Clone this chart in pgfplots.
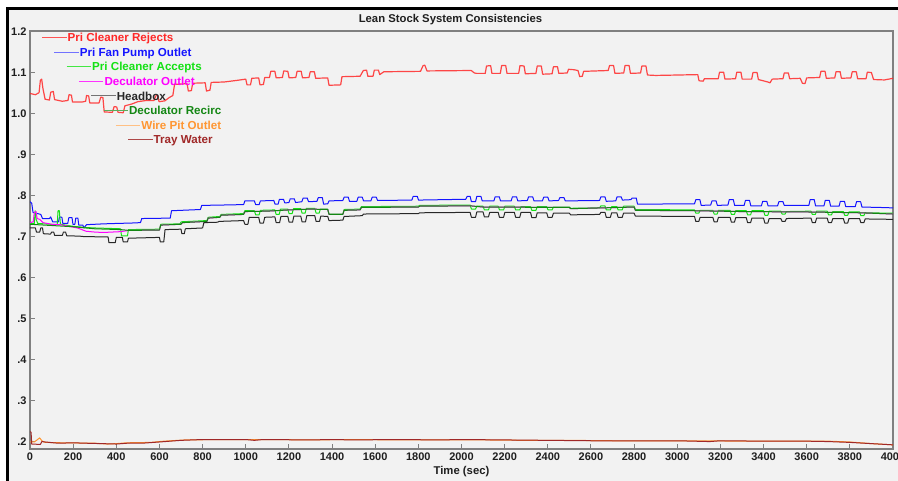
\documentclass[border=0pt]{standalone}
\usepackage{pgfplots}
\pgfplotsset{compat=1.18}
\usepackage{fontspec}
\setmainfont{Liberation Sans}
\definecolor{panel}{RGB}{242,242,242}
\definecolor{axisgray}{RGB}{128,128,128}
\definecolor{cRed}{RGB}{255,40,40}
\definecolor{cBlue}{RGB}{20,20,255}
\definecolor{cGreen}{RGB}{20,225,20}
\definecolor{cMag}{RGB}{255,0,255}
\definecolor{cBlack}{RGB}{40,40,40}
\definecolor{cDkGreen}{RGB}{20,135,20}
\definecolor{cOrange}{RGB}{255,150,50}
\definecolor{cBrown}{RGB}{160,40,40}
\begin{document}
\begin{tikzpicture}[x=1pt,y=1pt]
\path[use as bounding box] (0,0) rectangle (898,481);
\fill[white] (0,0) rectangle (898,481);
\fill[panel] (7.5,0) rectangle (898,472.5);
\draw[black, line width=3pt] (7.5,-2) -- (7.5,472.5) -- (900,472.5);
\begin{axis}[
  at={(30pt,32pt)}, anchor=south west, scale only axis,
  width=863pt, height=418pt,
  xmin=0, xmax=4000, ymin=0.1829, ymax=1.2024,
  axis line style={draw=axisgray, line width=1.3pt},
  tick style={draw=axisgray, line width=1pt},
  major tick length=5pt, tick align=inside,
  xtick pos=bottom, ytick pos=left,
  xtick={0,200,400,600,800,1000,1200,1400,1600,1800,2000,2200,2400,2600,2800,3000,3200,3400,3600,3800,4000},
  xticklabels={0,200,400,600,800,1000,1200,1400,1600,1800,2000,2200,2400,2600,2800,3000,3200,3400,3600,3800,4000},
  ytick={0.2,0.3,0.4,0.5,0.6,0.7,0.8,0.9,1.0,1.1,1.2},
  yticklabels={.2,.3,.4,.5,.6,.7,.8,.9,1.0,1.1,1.2},
  ticklabel style={font=\bfseries\fontsize{11}{11}\selectfont, text=black!88},
  every axis title shift=0pt,
  title={Lean Stock System Consistencies},
  title style={at={(rel axis cs:0.5,1)}, anchor=center, yshift=11pt, xshift=-11pt, font=\bfseries\fontsize{11.3}{12}\selectfont, text=black!88},
  xlabel={Time (sec)},
  xlabel style={at={(rel axis cs:0.5,0)}, anchor=center, yshift=-23pt, font=\bfseries\fontsize{11.3}{12}\selectfont, text=black!88},
  axis background/.style={fill=panel},
  every axis plot/.append style={line width=1pt, line join=round},
]
% Pri Cleaner Rejects
\addplot[cRed, line width=1.2pt, opacity=0.85] coordinates {
(0,1.050) (25,1.047) (42,1.052) (48,1.082) (54,1.085) (60,1.062) (70,1.036) (90,1.034) (96,1.053) (108,1.055) (114,1.035)
(150,1.031) (176,1.033) (181,1.047) (192,1.046) (197,1.029) (240,1.029) (258,1.031) (262,1.045) (272,1.044) (277,1.027)
(320,1.027) (328,1.041) (338,1.040) (344,1.005) (382,1.004) (390,1.018) (402,1.017) (408,1.004) (432,1.003) (440,1.020)
(470,1.024) (500,1.030) (540,1.033) (575,1.033) (585,1.046) (592,1.045) (598,1.030) (625,1.032) (645,1.040) (662,1.045)
(670,1.072) (728,1.074) (734,1.056) (748,1.057) (754,1.075) (812,1.076) (818,1.056) (834,1.058) (840,1.077) (900,1.078)
(960,1.082) (1000,1.085) (1006,1.071) (1022,1.071) (1028,1.087) (1060,1.088) (1066,1.071) (1082,1.072) (1088,1.089)
(1110,1.089) (1116,1.104) (1135,1.104) (1141,1.088) (1170,1.089) (1176,1.105) (1195,1.104) (1201,1.088) (1232,1.089)
(1238,1.104) (1257,1.104) (1263,1.088) (1293,1.089) (1299,1.103) (1318,1.103) (1324,1.087) (1380,1.088) (1386,1.070)
(1440,1.071) (1446,1.091) (1530,1.092) (1545,1.106) (1560,1.107) (1566,1.092) (1590,1.092) (1596,1.107) (1615,1.107)
(1621,1.096) (1640,1.103) (1810,1.104) (1822,1.118) (1830,1.119) (1840,1.105) (2045,1.106) (2060,1.100) (2070,1.099)
(2110,1.099) (2116,1.117) (2135,1.118) (2141,1.099) (2180,1.099) (2186,1.118) (2205,1.118) (2211,1.099) (2265,1.099)
(2271,1.118) (2290,1.117) (2296,1.098) (2345,1.099) (2351,1.117) (2370,1.117) (2376,1.097) (2420,1.098) (2426,1.115)
(2445,1.115) (2451,1.099) (2490,1.100) (2496,1.109) (2520,1.108) (2540,1.106) (2548,1.091) (2560,1.092) (2566,1.104)
(2680,1.106) (2686,1.118) (2705,1.118) (2711,1.099) (2752,1.100) (2758,1.118) (2777,1.118) (2783,1.099) (2830,1.100)
(2836,1.117) (2855,1.117) (2862,1.095) (2900,1.094) (3000,1.095) (3095,1.096) (3101,1.081) (3120,1.080) (3126,1.086)
(3190,1.086) (3196,1.102) (3215,1.102) (3221,1.085) (3270,1.086) (3276,1.102) (3295,1.102) (3301,1.085) (3345,1.085)
(3351,1.101) (3370,1.101) (3376,1.084) (3420,1.078) (3430,1.076) (3440,1.085) (3490,1.086) (3496,1.100) (3515,1.100)
(3521,1.086) (3570,1.087) (3580,1.075) (3592,1.074) (3600,1.088) (3660,1.089) (3666,1.104) (3685,1.104) (3691,1.087)
(3730,1.088) (3736,1.103) (3755,1.103) (3761,1.087) (3805,1.088) (3811,1.103) (3830,1.103) (3836,1.086) (3875,1.086)
(3881,1.102) (3900,1.101) (3910,1.084) (3960,1.083) (4000,1.087)
};
% Pri Fan Pump Outlet
\addplot[cBlue] coordinates {
(0,0.786) (8,0.782) (14,0.760) (50,0.755) (58,0.745) (90,0.745) (96,0.749) (105,0.737) (132,0.737) (137,0.749) (148,0.748)
(152,0.733) (175,0.733) (180,0.747) (195,0.747) (199,0.731) (208,0.731) (212,0.746) (222,0.746) (226,0.729) (245,0.729)
(250,0.722) (262,0.730) (340,0.732) (400,0.733) (470,0.734) (512,0.735) (518,0.745) (650,0.746) (656,0.764) (790,0.767)
(796,0.777) (900,0.778) (990,0.779) (996,0.788) (1040,0.788) (1046,0.779) (1062,0.779) (1068,0.788) (1130,0.789) (1136,0.780)
(1150,0.780) (1156,0.792) (1175,0.792) (1181,0.783) (1200,0.784) (1206,0.793) (1225,0.793) (1231,0.784) (1260,0.786)
(1266,0.795) (1285,0.795) (1291,0.786) (1330,0.787) (1336,0.796) (1355,0.796) (1361,0.780) (1380,0.781) (1386,0.788)
(1450,0.789) (1456,0.797) (1475,0.797) (1481,0.787) (1515,0.787) (1521,0.797) (1540,0.797) (1546,0.788) (1580,0.788)
(1586,0.797) (1605,0.797) (1611,0.789) (1770,0.790) (1776,0.799) (1795,0.799) (1801,0.790) (2020,0.792) (2026,0.799)
(2040,0.799) (2046,0.786) (2065,0.786) (2071,0.799) (2090,0.799) (2096,0.788) (2150,0.788) (2156,0.798) (2175,0.798)
(2181,0.788) (2230,0.788) (2236,0.798) (2255,0.798) (2261,0.788) (2305,0.789) (2311,0.798) (2330,0.798) (2336,0.788)
(2375,0.788) (2381,0.797) (2400,0.797) (2406,0.788) (2450,0.789) (2456,0.796) (2475,0.796) (2481,0.788) (2640,0.789)
(2646,0.798) (2665,0.798) (2671,0.787) (2715,0.788) (2721,0.798) (2740,0.798) (2746,0.790) (2785,0.791) (2791,0.795)
(2810,0.795) (2816,0.780) (3080,0.781) (3086,0.791) (3105,0.791) (3111,0.777) (3155,0.778) (3161,0.788) (3180,0.788)
(3186,0.777) (3235,0.778) (3241,0.791) (3260,0.791) (3266,0.777) (3310,0.777) (3316,0.789) (3335,0.789) (3341,0.776)
(3390,0.776) (3396,0.787) (3415,0.787) (3421,0.776) (3465,0.776) (3471,0.786) (3490,0.786) (3496,0.777) (3610,0.777)
(3616,0.791) (3635,0.791) (3641,0.776) (3680,0.776) (3686,0.789) (3705,0.789) (3711,0.775) (3750,0.775) (3756,0.787)
(3775,0.787) (3781,0.774) (3825,0.774) (3831,0.786) (3850,0.786) (3856,0.773) (3940,0.772) (4000,0.771)
};
% Pri Cleaner Accepts
\addplot[cGreen] coordinates {
(0,0.733) (20,0.733) (24,0.764) (29,0.742) (36,0.733) (126,0.730) (130,0.764) (136,0.764) (141,0.731) (200,0.726)
(260,0.723) (300,0.722) (420,0.720) (424,0.703) (452,0.703) (456,0.718) (600,0.719) (606,0.731) (695,0.732) (701,0.737)
(820,0.740) (826,0.748) (880,0.750) (886,0.755) (990,0.757) (996,0.764) (1040,0.764) (1046,0.754) (1062,0.754) (1068,0.765)
(1135,0.766) (1141,0.755) (1155,0.755) (1161,0.768) (1195,0.768) (1201,0.757) (1215,0.757) (1221,0.769) (1255,0.769)
(1261,0.758) (1275,0.758) (1281,0.770) (1320,0.770) (1326,0.758) (1340,0.758) (1346,0.768) (1380,0.768) (1386,0.756)
(1450,0.756) (1456,0.767) (1530,0.768) (1536,0.774) (1800,0.775) (1806,0.777) (2040,0.778) (2046,0.768) (2065,0.768)
(2071,0.775) (2100,0.775) (2106,0.766) (2125,0.766) (2131,0.775) (2170,0.775) (2176,0.766) (2195,0.766) (2201,0.775)
(2245,0.775) (2251,0.766) (2270,0.766) (2276,0.774) (2320,0.774) (2326,0.765) (2345,0.765) (2351,0.774) (2395,0.774)
(2401,0.766) (2420,0.766) (2426,0.773) (2500,0.773) (2506,0.770) (2640,0.771) (2646,0.776) (2665,0.776) (2671,0.766)
(2690,0.766) (2696,0.774) (2720,0.774) (2726,0.766) (2745,0.766) (2751,0.775) (2800,0.775) (2806,0.767) (3080,0.766)
(3086,0.758) (3100,0.758) (3106,0.765) (3165,0.765) (3171,0.756) (3185,0.756) (3191,0.765) (3245,0.765) (3251,0.755)
(3265,0.755) (3271,0.764) (3320,0.764) (3326,0.754) (3340,0.754) (3346,0.764) (3400,0.764) (3406,0.753) (3420,0.753)
(3426,0.763) (3480,0.763) (3486,0.756) (3500,0.756) (3506,0.762) (3620,0.763) (3626,0.755) (3640,0.755) (3646,0.763)
(3695,0.763) (3701,0.754) (3715,0.754) (3721,0.762) (3770,0.762) (3776,0.753) (3790,0.753) (3796,0.761) (3845,0.761)
(3851,0.752) (3865,0.752) (3871,0.759) (4000,0.758)
};
% Deculator Outlet
\addplot[cMag] coordinates {
(0,0.735) (15,0.737) (20,0.760) (28,0.762) (33,0.745) (45,0.743) (60,0.735) (100,0.731) (140,0.730) (180,0.726)
(220,0.722) (260,0.714) (300,0.712) (340,0.711) (380,0.712) (420,0.713) (460,0.716) (600,0.717) (606,0.729) (700,0.731)
(706,0.735) (820,0.738) (826,0.746) (880,0.748) (886,0.753) (990,0.755) (996,0.762) (1100,0.763) (1200,0.766) (1300,0.768)
(1380,0.767) (1386,0.755) (1450,0.755) (1456,0.765) (1530,0.766) (1536,0.772) (1800,0.773) (1806,0.775) (2040,0.776)
(2100,0.773) (2500,0.772) (2506,0.769) (2800,0.773) (2806,0.765) (3080,0.764) (3300,0.762) (3600,0.761) (3850,0.759) (4000,0.756)
};
% Headbox
\addplot[cBlack] coordinates {
(0,0.722) (25,0.722) (30,0.712) (45,0.712) (50,0.722) (58,0.722) (62,0.708) (95,0.707) (100,0.712) (110,0.712) (114,0.704)
(150,0.704) (155,0.712) (165,0.712) (170,0.703) (230,0.702) (250,0.701) (362,0.700) (366,0.686) (395,0.686) (400,0.699)
(428,0.699) (432,0.688) (452,0.688) (456,0.697) (600,0.699) (604,0.688) (620,0.688) (626,0.718) (700,0.719) (704,0.708)
(715,0.708) (720,0.720) (800,0.722) (806,0.735) (870,0.736) (876,0.738) (990,0.740) (996,0.731) (1010,0.731) (1016,0.748)
(1060,0.748) (1066,0.734) (1082,0.734) (1088,0.748) (1135,0.749) (1141,0.735) (1157,0.735) (1163,0.750) (1195,0.750)
(1201,0.736) (1217,0.736) (1223,0.751) (1255,0.751) (1261,0.737) (1277,0.737) (1283,0.752) (1320,0.752) (1326,0.738)
(1342,0.738) (1348,0.751) (1380,0.750) (1386,0.740) (1450,0.741) (1456,0.750) (1540,0.752) (1546,0.756) (1800,0.757)
(1806,0.759) (2040,0.760) (2046,0.748) (2065,0.748) (2071,0.761) (2100,0.761) (2106,0.749) (2125,0.749) (2131,0.760)
(2170,0.760) (2176,0.748) (2195,0.748) (2201,0.760) (2245,0.760) (2251,0.748) (2270,0.748) (2276,0.760) (2320,0.760)
(2326,0.747) (2345,0.747) (2351,0.759) (2395,0.759) (2401,0.748) (2420,0.748) (2426,0.758) (2500,0.758) (2506,0.754)
(2640,0.755) (2646,0.760) (2665,0.760) (2671,0.748) (2690,0.748) (2696,0.759) (2720,0.759) (2726,0.748) (2745,0.748)
(2751,0.758) (2800,0.758) (2806,0.751) (3080,0.750) (3086,0.738) (3100,0.738) (3106,0.748) (3165,0.748) (3171,0.737)
(3185,0.737) (3191,0.748) (3245,0.748) (3251,0.736) (3265,0.736) (3271,0.747) (3320,0.747) (3326,0.735) (3340,0.735)
(3346,0.746) (3400,0.746) (3406,0.734) (3420,0.734) (3426,0.745) (3480,0.745) (3486,0.738) (3500,0.738) (3506,0.745)
(3620,0.746) (3626,0.735) (3640,0.735) (3646,0.746) (3695,0.746) (3701,0.735) (3715,0.735) (3721,0.745) (3770,0.745)
(3776,0.734) (3790,0.734) (3796,0.745) (3845,0.745) (3851,0.735) (3865,0.735) (3871,0.744) (4000,0.743)
};
% Deculator Recirc
\addplot[cDkGreen] coordinates {
(0,0.731) (100,0.728) (200,0.725) (300,0.720) (420,0.718) (460,0.716) (600,0.717) (606,0.729) (700,0.731) (706,0.735)
(820,0.738) (826,0.746) (880,0.748) (886,0.753) (990,0.755) (996,0.762) (1100,0.763) (1200,0.766) (1300,0.768) (1380,0.767)
(1386,0.755) (1450,0.755) (1456,0.765) (1530,0.766) (1536,0.772) (1800,0.773) (1806,0.775) (2040,0.776) (2100,0.773)
(2500,0.772) (2506,0.769) (2800,0.773) (2806,0.765) (3080,0.764) (3300,0.762) (3600,0.761) (3850,0.759) (4000,0.756)
};
% Wire Pit Outlet
\addplot[cOrange] coordinates {
(0,0.200) (20,0.200) (35,0.206) (45,0.210) (55,0.203) (70,0.199) (150,0.198) (300,0.197) (360,0.195) (400,0.196) (450,0.198)
(560,0.199) (620,0.202) (720,0.205) (900,0.206) (1100,0.206) (1300,0.205) (1500,0.206) (1700,0.205) (1900,0.205)
(2100,0.205) (2300,0.204) (2500,0.204) (2700,0.203) (2900,0.203) (3100,0.203) (3300,0.202) (3500,0.202) (3700,0.202)
(3800,0.200) (3900,0.196) (4000,0.193)
};
% Tray Water
\addplot[cBrown] coordinates {
(0,0.225) (5,0.224) (8,0.195) (48,0.194) (55,0.201) (70,0.200) (130,0.197) (200,0.198) (260,0.197) (330,0.196) (400,0.195)
(450,0.197) (520,0.197) (600,0.200) (700,0.204) (800,0.206) (1000,0.206) (1040,0.204) (1080,0.206) (1300,0.205)
(1400,0.206) (1500,0.205) (1700,0.206) (1900,0.205) (2000,0.206) (2200,0.205) (2400,0.204) (2600,0.203) (2800,0.203)
(3000,0.203) (3150,0.201) (3200,0.203) (3400,0.202) (3600,0.202) (3700,0.201) (3800,0.199) (3900,0.196) (4000,0.193)
};
\end{axis}
% legend (stair-stepped, as in the reference)
\begin{scope}[font=\bfseries\fontsize{11.6}{12}\selectfont, every path/.append style={line width=1.2pt}]
\draw[cRed!80] (42,443.5) -- (66.5,443.5);
\node[anchor=base west, inner sep=0.5pt, text=cRed] at (66.5,439.3) {Pri Cleaner Rejects};
\draw[cBlue!60] (54.3,428.5) -- (78.8,428.5);
\node[anchor=base west, inner sep=0.5pt, text=cBlue] at (78.8,424.7) {Pri Fan Pump Outlet};
\draw[cGreen!80] (66.6,414.5) -- (91.1,414.5);
\node[anchor=base west, inner sep=0.5pt, text=cGreen] at (91.1,410.1) {Pri Cleaner Accepts};
\draw[cMag!80] (78.9,399.5) -- (103.4,399.5);
\node[anchor=base west, inner sep=0.5pt, text=cMag] at (103.4,395.5) {Deculator Outlet};
\draw[black!55] (91.2,385.5) -- (115.7,385.5);
\node[anchor=base west, inner sep=0.5pt, text=cBlack] at (115.7,380.9) {Headbox};
\draw[cDkGreen!70] (103.5,370.5) -- (128,370.5);
\node[anchor=base west, inner sep=0.5pt, text=cDkGreen] at (128,366.3) {Deculator Recirc};
\draw[cOrange!60] (115.8,355.5) -- (140.3,355.5);
\node[anchor=base west, inner sep=0.5pt, text=cOrange] at (140.3,351.7) {Wire Pit Outlet};
\draw[cBrown!85] (128.1,341.5) -- (152.6,341.5);
\node[anchor=base west, inner sep=0.5pt, text=cBrown] at (152.6,337.1) {Tray Water};
\end{scope}
\end{tikzpicture}
\end{document}
